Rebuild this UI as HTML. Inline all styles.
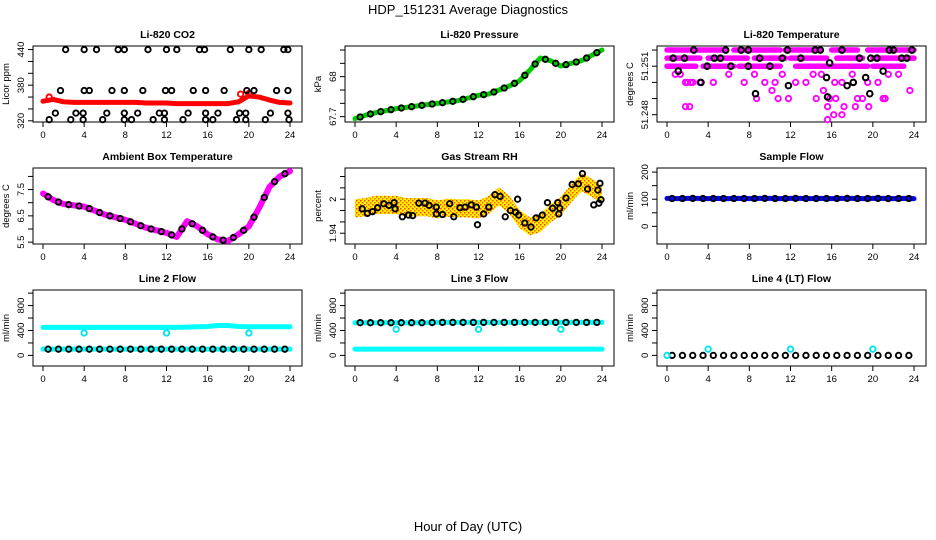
<!DOCTYPE html>
<html><head><meta charset="utf-8"><style>
body{margin:0;background:#fff}
svg{display:block;font-family:"Liberation Sans",Arial,sans-serif}
.t{font-size:10.5px;font-weight:bold}
.tk{font-size:9.5px}
</style></head><body>
<svg id="c" width="936" height="540" viewBox="0 0 936 540">
<defs><pattern id="stip" width="4" height="4" patternUnits="userSpaceOnUse"><rect width="4" height="4" fill="#ffee00"/><rect width="1.5" height="1.5" fill="#ff4400"/><rect x="2" y="2" width="1.5" height="1.5" fill="#ff6600"/></pattern></defs>
<text x="468" y="14" text-anchor="middle" font-size="13">HDP_151231  Average Diagnostics</text>
<text x="468" y="531" text-anchor="middle" font-size="13">Hour of Day (UTC)</text>
</svg>
<script>
const hours=[0,1,2,3,4,5,6,7,8,9,10,11,12,13,14,15,16,17,18,19,20,21,22,23,24];
const xTicks=[0,4,8,12,16,20,24];
// CO2
const co2Red=[353,356,352,351,351,351,351,351,351,351,350,350,350,349,349,349,349,349,349,352,362,360,355,351,350];
const co2BlkX=[2.2,4,5.2,7.3,7.9,10.2,12,13,15.2,15.7,18.2,20,21.2,23.4,23.8, 1.7,4,4.5,6.7,7.9,9.7,11.9,12.5,14.6,15.8,17.6,19.8,20.5,22.7,23.8, 1.2,3.2,3.9,6.2,7.9,9.2,11.3,11.8,14.1,15.8,17,19.1,19.7,22.1,23.8, 0.6,2.7,3.9,5.8,7.9,8.6,10.7,11.8,13.6,15.8,16.5,18.8,19.7,21.6,23.9];
const co2BlkY=[440,440,440,440,440,440,440,440,440,440,440,440,440,440,440, 371,371,371,371,371,371,371,371,371,371,371,371,371,371,371, 333,333,333,333,333,333,333,333,333,333,333,333,333,333,333, 322,322,322,322,322,322,322,322,322,322,322,322,322,322,322];
// Pressure
const presGreen=[67.685,67.71,67.73,67.745,67.76,67.77,67.78,67.79,67.80,67.81,67.82,67.84,67.86,67.87,67.90,67.93,67.97,68.05,68.14,68.12,68.08,68.10,68.12,68.16,68.20];
// Temperature (Li-820)
const tempMagSegX0=[0,3,6.5,11.5,16,19.5, 0,4,8.5,12,16.5,20, 0,3.5,7,12.5,16,20];
const tempMagSegX1=[2.5,5.8,11,15,18.5,24, 3.2,7.8,11.5,15.5,19,24, 2.8,6.5,11,15.7,19.5,23];
const tempMagSegY=[51.2520,51.2520,51.2520,51.2520,51.2520,51.2520, 51.2515,51.2515,51.2515,51.2515,51.2515,51.2515, 51.2510,51.2510,51.2510,51.2510,51.2510,51.2510];
const tempMagX=[0.8,1.3,2,2.5,3.2,4.5,6,7.5,8.5,9.5,10.5,11.2,12.5,13.5,14.2,15,16.3,17,18,19.5,20.5,21.5,22.5,23.6, 1.8,2.3,8.7,10.2,10.8,11.8,14.5,15.2,15.8,16.4,17.2,18.5,19,21,21.2, 1.8,2.2,15.6,16.2,17,18.3,19.6,15.6];
const tempMagY=[51.2505,51.2505,51.2500,51.2500,51.2500,51.2500,51.2505,51.2500,51.2505,51.2500,51.2500,51.2505,51.2500,51.2500,51.2505,51.2505,51.2500,51.2500,51.2505,51.2500,51.2500,51.2505,51.2505,51.2495, 51.2500,51.2500,51.2490,51.2495,51.2490,51.2490,51.2490,51.2495,51.2490,51.2490,51.2485,51.2490,51.2490,51.2490,51.2490, 51.2485,51.2485,51.2485,51.2480,51.2480,51.2485,51.2485,51.2477];
const tempBlkX=[0.6,1.7,2.6,3.9,4.6,5.2,5.7,7.2,7.9,9,10,11.2,11.7,13,14.4,14.9,15.8,17,18.7,19.8,20.4,21.6,22,22.8,23.3,23.8, 1.1,3.3,6.2,7.9,11.8,15.5,17.5,18.1,19.3,19.7,21, 8.6,15.6];
const tempBlkY=[51.2515,51.2515,51.2520,51.2510,51.2515,51.2515,51.2520,51.2520,51.2520,51.2515,51.2510,51.2515,51.2520,51.2515,51.2520,51.2520,51.2512,51.2520,51.2515,51.2515,51.2515,51.2520,51.2520,51.2515,51.2515,51.2520, 51.2507,51.2500,51.2510,51.2510,51.2498,51.2503,51.2498,51.2500,51.2503,51.2493,51.2507, 51.2493,51.2491];
// Ambient box temp
const ambTemp=[7.35,7.1,6.95,6.9,6.85,6.7,6.55,6.45,6.35,6.2,6.05,5.95,5.85,5.7,6.3,6.1,5.8,5.6,5.55,5.8,6.1,6.8,7.6,8.0,8.2];
// Gas stream RH
const rhMean=[1.984,1.986,1.99,1.99,1.99,1.986,1.986,1.986,1.982,1.985,1.984,1.984,1.982,1.99,2.005,1.99,1.965,1.952,1.958,1.975,1.988,2.01,2.03,2.02,2.008];
const rhBlkX=[0.7,1.2,1.7,2.2,2.8,3.3,3.8,3.9,4.6,5.2,5.6,6.2,6.8,7.2,7.9,7.9,8.5,9.2,9.6,10.2,10.7,11.3,11.8,11.9,12.5,13,13.6,14.1,14.6,15.1,15.6,15.8,15.9,16.5,17.1,17.6,18.2,18.7,19.2,19.7,19.8,19.9,20.5,21.1,21.7,22.1,22.6,23.2,23.6,23.7,23.8,23.9];
const rhBlkY=[1.983,1.975,1.978,1.985,1.992,1.989,1.994,1.983,1.969,1.972,1.971,1.993,1.993,1.989,1.986,1.974,1.973,1.992,1.969,1.985,1.986,1.990,1.986,1.955,1.974,1.986,2.008,2.005,1.969,1.980,1.977,2.000,1.972,1.958,1.951,1.967,1.972,1.994,1.984,1.994,1.974,1.984,2.002,2.026,2.027,2.045,2.018,1.990,2.016,1.993,2.028,1.999];
// Flows
const sampleFlow=[103,102,103,103,102,103,102,103,102,103,103,102,103,103,102,103,102,103,103,102,103,103,102,103,102];
const line2Hi=[450,450,450,450,450,450,450,450,450,450,450,450,450,450,455,460,465,480,480,465,460,460,460,460,460];
const line2Lo=[100,100,100,100,100,100,100,100,100,100,100,100,100,100,100,100,100,100,100,100,100,100,100,100,100];
const line3Hi=[525,525,525,525,525,525,525,525,530,530,530,530,530,530,530,530,530,530,530,530,530,530,530,530,530];
const line3Lo=[100,100,100,100,100,100,100,100,100,100,100,100,100,100,100,100,100,100,100,100,100,100,100,100,100];
const line4=[0,0,0,0,0,0,0,0,0,0,0,0,0,0,0,0,0,0,0,0,0,0,0,0,0];
const outX=[4,12,20];
const line2Out=[360,360,360];
const line3Out=[420,420,420];
const line4Out=[100,100,100];

const NS="http://www.w3.org/2000/svg";
const svg=document.getElementById('c');
function mk(tag,attrs,parent){const e=document.createElementNS(NS,tag);for(const k in attrs)e.setAttribute(k,attrs[k]);(parent||svg).appendChild(e);return e;}
const colL=[33,345,657],rowT=[46,168,290],W=269,H=76;
function panel(ci,ri,name,title,ylab,ymin,ymax,yticks,ylabels){
  const L=colL[ci],T=rowT[ri];
  const g=mk('g',{});
  
  
  const sx=h=>L+10+h*(247/24);
  const sy=v=>T+H-(v-ymin)/(ymax-ymin)*H;
  const tt=mk('text',{x:L+W/2,y:T-8,'text-anchor':'middle',class:'t'},g);tt.textContent=title;
  
  
  const yl=mk('text',{transform:`translate(${L-24},${T+H/2}) rotate(-90)`,'text-anchor':'middle',class:'tk'},g);yl.textContent=ylab;
  
  
  const box=mk('rect',{x:L,y:T,width:W,height:H,fill:'none',stroke:'#000','stroke-width':1},g);
  
  
  xTicks.forEach(h=>{const x=sx(h);mk('line',{x1:x,x2:x,y1:T+H,y2:T+H+5,stroke:'#000'},g);
    const t=mk('text',{x:x,y:T+H+16,'text-anchor':'middle',class:'tk'},g);t.textContent=h;
    
    });
  yticks.forEach(v=>{const y=sy(v);mk('line',{x1:L,x2:L-5,y1:y,y2:y,stroke:'#000'},g);});
  ylabels.forEach(v=>{const y=sy(v);const t=mk('text',{transform:`translate(${L-9},${y}) rotate(-90)`,'text-anchor':'middle',class:'tk'},g);t.textContent=v;
    
    });
  return {g,sx,sy};
}
function pts(p,xs,ys,color,r,sw,nm){xs.forEach((x,i)=>{const c=mk('circle',{cx:p.sx(x),cy:p.sy(ys[i]),r:r||2.7,fill:'none',stroke:color,'stroke-width':sw||1.9},p.g);
  
  });}
function band(p,ys,color,w,nm){const d=hours.map((h,i)=>(i?'L':'M')+p.sx(h)+','+p.sy(ys[i])).join('');
  const e=mk('path',{d:d,fill:'none',stroke:color,'stroke-width':w,'stroke-linejoin':'round','stroke-linecap':'round'},p.g);
  
  }
const half=hours.map(h=>h+0.5).slice(0,24);
function blkAlong(p,ys,nm){pts(p,half,half.map((h,i)=>(ys[i]+ys[i+1])/2),'#000',2.7,1.9,nm);}

// P1
let p=panel(0,0,'co2-panel','Li-820 CO2','Licor ppm',318,446,[320,340,360,380,400,420,440],[320,380,440]);
band(p,co2Red,'#ff0000',5,'co2-red-series');
pts(p,[0.6,19.2,20],[360,365,366],'#ff0000',2.7,1.9,'co2-red-point');
pts(p,co2BlkX,co2BlkY,'#000',2.7,1.9,'co2-black-point');
// P2
p=panel(1,0,'pressure-panel','Li-820 Pressure','kPa',67.66,68.23,[67.7,67.8,67.9,68.0,68.1,68.2],[67.7,68.0]);
band(p,presGreen,'#00cc00',5,'pressure-green-series');
blkAlong(p,presGreen,'pressure-black-point');
// P3
p=panel(2,0,'li820-temp-panel','Li-820 Temperature','degrees C',51.24755,51.25225,[51.248,51.249,51.250,51.251,51.252],[51.248,51.251]);
tempMagSegX0.forEach((x0,i)=>{const y=p.sy(tempMagSegY[i]);const e=mk('line',{x1:p.sx(x0),x2:p.sx(tempMagSegX1[i]),y1:y,y2:y,stroke:'#ff00ff','stroke-width':5.5,'stroke-linecap':'round'},p.g);
  
  });
pts(p,tempMagX,tempMagY,'#ff00ff',2.7,1.9,'temp-magenta-point');
pts(p,tempBlkX,tempBlkY,'#000',2.8,2,'temp-black-point');
// P4
p=panel(0,1,'ambient-temp-panel','Ambient Box Temperature','degrees C',5.43,8.32,[5.5,6,6.5,7,7.5,8],[5.5,6.5,7.5]);
band(p,ambTemp,'#ff00ff',6,'ambient-magenta-series');
blkAlong(p,ambTemp,'ambient-black-point');
// P5
p=panel(1,1,'rh-panel','Gas Stream RH','percent',1.921,2.055,[1.94,1.96,1.98,2.00,2.02,2.04],[1.94,2.00]);
{const up=hours.map((h,i)=>p.sx(h)+','+p.sy(rhMean[i]+0.016)).join(' ');
 const dn=hours.slice().reverse().map((h,j)=>p.sx(h)+','+p.sy(rhMean[24-j]-0.016)).join(' ');
 const e=mk('polygon',{points:up+' '+dn,fill:'url(#stip)'},p.g);
 
 }
pts(p,rhBlkX,rhBlkY,'#000',2.7,1.9,'rh-black-point');
// P6
p=panel(2,1,'sample-flow-panel','Sample Flow','ml/min',-65,215,[0,50,100,150,200],[0,100,200]);
band(p,sampleFlow,'#0000ff',5,'sample-flow-blue-series');
blkAlong(p,sampleFlow,'sample-flow-black-point');
// P7
const fT=[0,200,400,600,800,1000],fL=[0,400,800];
p=panel(0,2,'line2-flow-panel','Line 2 Flow','ml/min',-170,1050,fT,fL);
band(p,line2Hi,'#00ffff',5,'line2-cyan-high');
band(p,line2Lo,'#00ffff',5,'line2-cyan-low');
blkAlong(p,line2Lo,'line2-black-point');
pts(p,outX,line2Out,'#00e5ee',2.7,1.9,'line2-cyan-outlier');
// P8
p=panel(1,2,'line3-flow-panel','Line 3 Flow','ml/min',-170,1050,fT,fL);
band(p,line3Lo,'#00ffff',5,'line3-cyan-low');
band(p,line3Hi,'#00ffff',5,'line3-cyan-high');
blkAlong(p,line3Hi,'line3-black-point');
pts(p,outX,line3Out,'#00e5ee',2.7,1.9,'line3-cyan-outlier');
// P9
p=panel(2,2,'line4-flow-panel','Line 4 (LT) Flow','ml/min',-170,1050,fT,fL);
blkAlong(p,line4,'line4-black-point');
pts(p,[0],[0],'#00e5ee',2.7,1.9,'line4-cyan-point');
pts(p,outX,line4Out,'#00e5ee',2.7,1.9,'line4-cyan-outlier');
</script>
</body></html>
